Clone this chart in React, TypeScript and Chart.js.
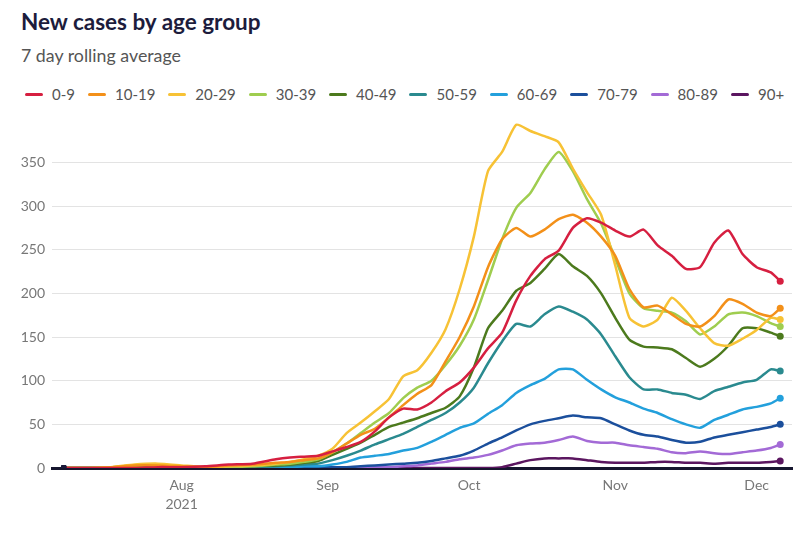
import React, { useEffect, useRef } from 'react';
import { Chart, registerables } from 'chart.js';

Chart.register(...registerables);

// Day offsets from 7 July 2021
const days = [0, 5, 10, 15, 20, 25, 30, 35, 40, 45, 48, 51, 54, 57, 60, 63, 66, 69, 72, 75, 78, 81, 84, 87, 90, 93, 96, 99, 102, 105, 108, 111, 114, 117, 120, 123, 126, 129, 132, 135, 138, 141, 144, 147, 150, 152];

const monthTicks = [25, 56, 86, 117, 147];
const monthLabels: (string | string[])[] = [['Aug', '2021'], 'Sep', 'Oct', 'Nov', 'Dec'];

const yTicks = [0, 50, 100, 150, 200, 250, 300, 350];

const ageGroups = ['0-9', '10-19', '20-29', '30-39', '40-49', '50-59', '60-69', '70-79', '80-89', '90+'];
const colors = ['#d61f40', '#f39019', '#f7c235', '#9fcd4f', '#4c7a1d', '#2a8a8f', '#23a0dc', '#1b4f9c', '#a36ad6', '#5b1660'];

const age0to9 = [0, 0, 0, 0, 1, 1, 2, 4, 5, 10, 12, 13, 14, 19, 24, 30, 42, 58, 68, 67, 75, 88, 98, 115, 137, 155, 192, 220, 239, 249, 275, 286, 281, 272, 265, 273, 255, 243, 228, 230, 258, 272, 245, 230, 224, 214];
const age10to19 = [0, 0, 1, 3, 3, 2, 1, 3, 4, 6, 7, 9, 11, 18, 28, 38, 45, 58, 72, 85, 95, 122, 150, 185, 230, 262, 275, 265, 273, 285, 290, 281, 265, 243, 205, 184, 186, 176, 165, 162, 174, 193, 188, 178, 174, 183];
const age20to29 = [0, 0, 1, 4, 5, 3, 1, 2, 3, 5, 7, 10, 14, 22, 40, 52, 65, 79, 105, 112, 132, 159, 205, 265, 340, 362, 393, 386, 380, 373, 343, 316, 290, 232, 172, 162, 170, 195, 180, 160, 143, 140, 148, 158, 172, 170];
const age30to39 = [0, 0, 1, 3, 3, 2, 1, 1, 2, 4, 5, 7, 10, 18, 28, 40, 52, 63, 80, 92, 100, 118, 140, 170, 215, 262, 298, 315, 342, 362, 340, 308, 280, 240, 200, 183, 180, 178, 168, 153, 162, 176, 178, 174, 166, 162];
const age40to49 = [0, 0, 0, 1, 2, 1, 1, 1, 2, 3, 4, 6, 8, 15, 22, 29, 38, 47, 52, 57, 63, 69, 82, 115, 160, 180, 203, 212, 228, 245, 231, 220, 200, 172, 147, 139, 138, 136, 126, 116, 125, 140, 160, 160, 155, 151];
const age50to59 = [0, 0, 0, 0, 1, 1, 0, 1, 1, 2, 3, 4, 5, 9, 14, 20, 27, 33, 39, 47, 55, 63, 75, 92, 120, 145, 165, 162, 176, 185, 179, 170, 153, 128, 104, 90, 90, 86, 84, 79, 88, 93, 98, 101, 113, 111];
const age60to69 = [0, 0, 0, 0, 0, 0, 0, 0, 1, 1, 1, 2, 2, 4, 7, 12, 14, 16, 20, 23, 30, 38, 46, 51, 62, 72, 86, 95, 102, 113, 113, 101, 90, 81, 75, 68, 63, 56, 50, 46, 55, 61, 67, 70, 74, 80];
const age70to79 = [0, 0, 0, 0, 0, 0, 0, 0, 0, 0, 0, 0, 1, 1, 1, 2, 3, 4, 5, 6, 8, 11, 14, 20, 28, 35, 43, 50, 54, 57, 60, 58, 57, 50, 43, 38, 36, 32, 29, 30, 35, 38, 41, 44, 47, 50];
const age80to89 = [0, 0, 0, 0, 0, 0, 0, 0, 0, 0, 0, 0, 0, 0, 0, 0, 1, 1, 2, 3, 5, 7, 10, 12, 15, 20, 26, 28, 29, 32, 36, 31, 29, 29, 26, 24, 22, 18, 17, 19, 17, 16, 18, 20, 23, 27];
const age90plus = [0, 0, 0, 0, 0, 0, 0, 0, 0, 0, 0, 0, 0, 0, 0, 0, 0, 0, 0, 0, 0, 0, 0, 0, 0, 1, 5, 9, 11, 11, 11, 9, 7, 6, 6, 6, 7, 7, 6, 6, 5, 6, 6, 6, 7, 8];

const series = [age0to9, age10to19, age20to29, age30to39, age40to49, age50to59, age60to69, age70to79, age80to89, age90plus];

const FONT = 'Lato, "Open Sans", sans-serif';

export default function App() {
  const ref = useRef<HTMLCanvasElement>(null);

  useEffect(() => {
    document.body.style.margin = '0';
    const last = days.length - 1;
    const chart = new Chart(ref.current as HTMLCanvasElement, {
      type: 'line',
      data: {
        datasets: series.map((vals, i) => ({
          label: ageGroups[i],
          data: days.map((d, j) => ({ x: d, y: vals[j] })),
          borderColor: colors[i],
          backgroundColor: colors[i],
          borderWidth: 2.5,
          pointRadius: (c: any) => (c.dataIndex === last ? 3.5 : c.dataIndex === 0 ? 3 : 0),
          pointBackgroundColor: (c: any) => (c.dataIndex === 0 ? '#1a1a3a' : colors[i]),
          pointBorderWidth: 0,
          pointHoverRadius: 0,
          tension: 0.2,
          fill: false,
        })),
      },
      options: {
        animation: false,
        responsive: false,
        maintainAspectRatio: false,
        layout: { padding: { top: 17, right: 8, left: 0, bottom: 0 } },
        plugins: {
          legend: { display: false },
          tooltip: { enabled: false },
        },
        scales: {
          x: {
            type: 'linear',
            min: -2.5,
            max: 154.5,
            z: 1,
            grid: { display: false, drawTicks: false },
            border: { display: true, color: '#16162e', width: 3 },
            afterBuildTicks: (scale: any) => {
              scale.ticks = monthTicks.map((v) => ({ value: v }));
            },
            ticks: {
              autoSkip: false,
              maxRotation: 0,
              padding: 8,
              color: '#777',
              font: { family: FONT, size: 14, lineHeight: 1.35 },
              callback: (v: any) => {
                const k = monthTicks.indexOf(Number(v));
                return k >= 0 ? monthLabels[k] : '';
              },
            },
            afterFit: (scale: any) => {
              scale.height = 67;
            },
          },
          y: {
            min: 0,
            max: 402,
            afterBuildTicks: (scale: any) => {
              scale.ticks = yTicks.map((v) => ({ value: v }));
            },
            ticks: {
              padding: 7,
              color: '#777',
              font: { family: FONT, size: 14 },
            },
            grid: { color: '#e3e3e3', lineWidth: 1, drawTicks: false },
            border: { display: false },
            afterFit: (scale: any) => {
              scale.width = 52;
            },
          },
        },
      },
    } as any);
    return () => chart.destroy();
  }, []);

  return (
    <div style={{ position: 'relative', width: 800, height: 535, background: '#fff', fontFamily: FONT, overflow: 'hidden' }}>
      <div style={{ position: 'absolute', left: 21, top: 8, fontSize: 22.5, fontWeight: 700, color: '#1c1c3c', whiteSpace: 'nowrap' }}>
        New cases by age group
      </div>
      <div style={{ position: 'absolute', left: 21, top: 44, fontSize: 17.8, color: '#555', whiteSpace: 'nowrap' }}>
        7 day rolling average
      </div>
      <div style={{ position: 'absolute', left: 25, top: 85, display: 'flex', alignItems: 'center', gap: 13, fontSize: 15, color: '#555', lineHeight: '18px', whiteSpace: 'nowrap' }}>
        {ageGroups.map((g, i) => (
          <div key={g} style={{ display: 'flex', alignItems: 'center', gap: 9 }}>
            <span style={{ display: 'inline-block', width: 18, height: 3, borderRadius: 2, background: colors[i] }} />
            <span>{g}</span>
          </div>
        ))}
      </div>
      <canvas ref={ref} width={800} height={435} style={{ position: 'absolute', left: 0, top: 100, display: 'block' }} />
    </div>
  );
}
